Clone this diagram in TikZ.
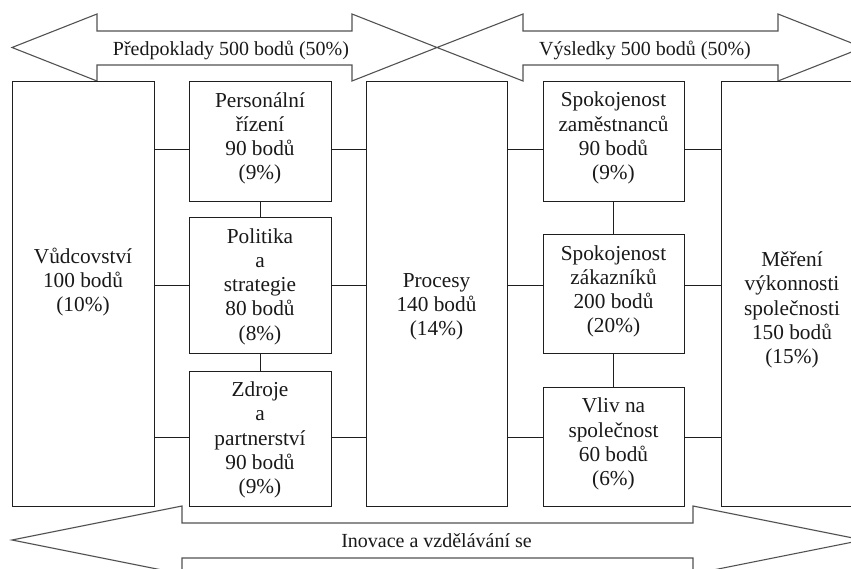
\documentclass[tikz,border=0pt]{standalone}
\usepackage{fontspec}
\setmainfont{Liberation Serif}
\begin{document}
\begin{tikzpicture}[x=1pt,y=-1pt,
  box/.style={draw=black!88, line width=0.9pt, fill=white, inner sep=0pt},
  txt/.style={align=center, inner sep=0pt, text=black!90, font=\fontsize{21.3}{24.2}\selectfont},
  atxt/.style={anchor=base, inner sep=0pt, text=black!90, font=\fontsize{20}{24}\selectfont},
  big/.style={draw=black!68, line width=1.1pt},
  conn/.style={draw=black!88, line width=0.9pt}]
\useasboundingbox (0,0) rectangle (851,568);
\clip (0,0) rectangle (851,568);
% big arrows
\draw[big] (12,47.5) -- (97,14) -- (97,31) -- (352,31) -- (352,14) -- (437,47.5)
  -- (352,81) -- (352,65) -- (97,65) -- (97,81) -- cycle;
\draw[big] (437,47.5) -- (523,14) -- (523,31) -- (778,31) -- (778,14) -- (863,47.5)
  -- (778,81) -- (778,65) -- (523,65) -- (523,81) -- cycle;
\draw[big] (12,540) -- (182,506) -- (182,523) -- (693,523) -- (693,506) -- (863,540)
  -- (693,574) -- (693,558) -- (182,558) -- (182,574) -- cycle;
\node[atxt] (tpre) at (231,55.5) {Předpoklady 500 bodů (50\%)};
\node[atxt] (tvys) at (645,55.5) {Výsledky 500 bodů (50\%)};
\node[atxt] (tino) at (436.5,547) {Inovace a vzdělávání se};
% boxes
\node[box, minimum width=142pt, minimum height=425pt] (vud) at (83,293.5) {};
\node[box, minimum width=142pt, minimum height=120pt] (pers) at (260,141) {};
\node[box, minimum width=142pt, minimum height=136pt] (pol) at (260,285) {};
\node[box, minimum width=142pt, minimum height=135pt] (zdr) at (260,438.5) {};
\node[box, minimum width=141pt, minimum height=425pt] (proc) at (436.5,293.5) {};
\node[box, minimum width=141pt, minimum height=120pt] (szam) at (613.5,141) {};
\node[box, minimum width=141pt, minimum height=119pt] (szak) at (613.5,293.5) {};
\node[box, minimum width=141pt, minimum height=119pt] (vliv) at (613.5,446.5) {};
\node[box, minimum width=142pt, minimum height=425pt] (mer) at (792,293.5) {};
% texts
\node[txt] (vudt) at (83,282) {Vůdcovství\\100 bodů\\(10\%)};
\node[txt] (perst) at (260,138.5) {Personální\\řízení\\90 bodů\\(9\%)};
\node[txt] (polt) at (260,286.5) {Politika\\a\\strategie\\80 bodů\\(8\%)};
\node[txt] (zdrt) at (260,440) {Zdroje\\a\\partnerství\\90 bodů\\(9\%)};
\node[txt] (proct) at (436.5,307) {Procesy\\140 bodů\\(14\%)};
\node[txt] (szamt) at (613.5,138) {Spokojenost\\zaměstnanců\\90 bodů\\(9\%)};
\node[txt] (szakt) at (613.5,291.5) {Spokojenost\\zákazníků\\200 bodů\\(20\%)};
\node[txt] (vlivt) at (613.5,444) {Vliv na\\společnost\\60 bodů\\(6\%)};
\node[txt] (mert) at (792,310) {Měření\\výkonnosti\\společnosti\\150 bodů\\(15\%)};
% rows
\coordinate (r1) at (0,149);
\coordinate (r2) at (0,285);
\coordinate (r3) at (0,437);
% connectors
\draw[conn] (vud.east |- r1) -- (pers.west |- r1);
\draw[conn] (vud.east |- r2) -- (pol.west |- r2);
\draw[conn] (vud.east |- r3) -- (zdr.west |- r3);
\draw[conn] (pers.east |- r1) -- (proc.west |- r1);
\draw[conn] (pol.east |- r2) -- (proc.west |- r2);
\draw[conn] (zdr.east |- r3) -- (proc.west |- r3);
\draw[conn] (pers.south) -- (pol.north);
\draw[conn] (pol.south) -- (zdr.north);
\draw[conn] (proc.east |- r1) -- (szam.west |- r1);
\draw[conn] (proc.east |- r2) -- (szak.west |- r2);
\draw[conn] (proc.east |- r3) -- (vliv.west |- r3);
\draw[conn] (szam.east |- r1) -- (mer.west |- r1);
\draw[conn] (szak.east |- r2) -- (mer.west |- r2);
\draw[conn] (vliv.east |- r3) -- (mer.west |- r3);
\draw[conn] (szam.south) -- (szak.north);
\draw[conn] (szak.south) -- (vliv.north);
\end{tikzpicture}
\end{document}
